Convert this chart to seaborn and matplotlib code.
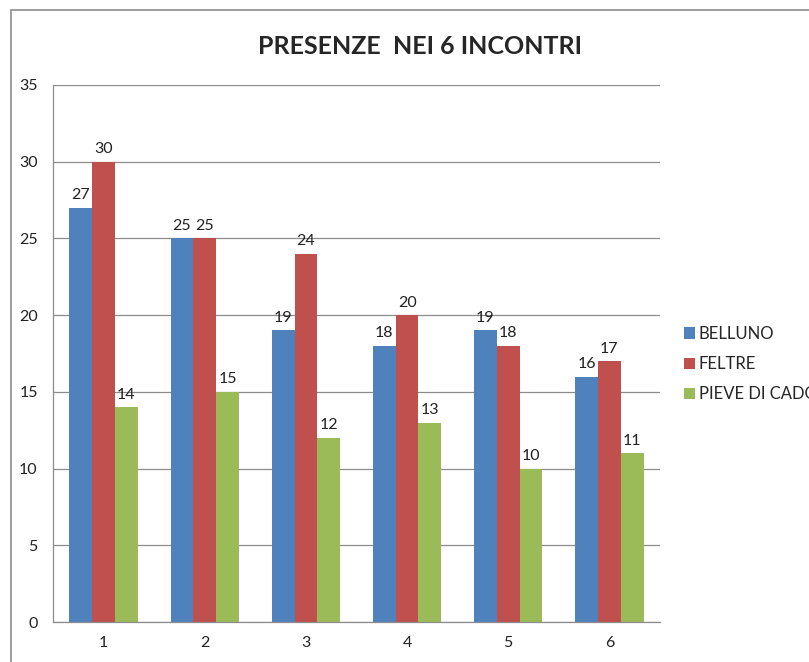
import matplotlib
matplotlib.use("Agg")
import matplotlib.pyplot as plt
from matplotlib.patches import Rectangle
import seaborn as sns
import pandas as pd

incontri = ["1", "2", "3", "4", "5", "6"]
belluno = [27, 25, 19, 18, 19, 16]
feltre = [30, 25, 24, 20, 18, 17]
pieve = [14, 15, 12, 13, 10, 11]
sedi = ["BELLUNO", "FELTRE", "PIEVE DI CADORE"]
colori = ["#4F81BD", "#C0504D", "#9BBB59"]

df = pd.DataFrame({
    "incontro": incontri * 3,
    "presenze": belluno + feltre + pieve,
    "sede": [s for s in sedi for _ in incontri],
})

sns.set_style("white")
plt.rcParams["font.family"] = ["Lato", "DejaVu Sans"]

fig = plt.figure(figsize=(8.09, 6.62), dpi=100)
ax = fig.add_axes([53 / 809, 40 / 662, 607 / 809, 537 / 662])

sns.barplot(data=df, x="incontro", y="presenze", hue="sede", order=incontri,
            hue_order=sedi, palette=colori, width=0.675, gap=0,
            saturation=1, linewidth=0, ax=ax)

for cont in ax.containers:
    ax.bar_label(cont, padding=4, fontsize=11.5, color="#222222")

ax.set_ylim(0, 35)
ax.set_yticks(range(0, 36, 5))
ax.set_xlim(-0.5, 5.5)
ax.yaxis.grid(True, color="#8c8c8c", linewidth=0.9)
ax.set_axisbelow(True)
ax.set_xlabel("")
ax.set_ylabel("")
for s in ["top", "right"]:
    ax.spines[s].set_visible(False)
for s in ["left", "bottom"]:
    ax.spines[s].set_color("#8c8c8c")
    ax.spines[s].set_linewidth(0.9)
ax.tick_params(axis="both", length=0, labelsize=11.5, colors="#222222")
ax.tick_params(axis="y", pad=11)
ax.tick_params(axis="x", pad=10)

ax.legend(loc="center left", bbox_to_anchor=(684 / 809, 1 - 364 / 662),
          bbox_transform=fig.transFigure, frameon=False, fontsize=12,
          handlelength=0.65, handleheight=0.65, handletextpad=0.25,
          labelspacing=0.85, borderaxespad=0, borderpad=0)

fig.text(420 / 809, 1 - 47 / 662, "PRESENZE  NEI 6 INCONTRI",
         ha="center", va="center", fontsize=18, fontweight="bold")

fig.patches.append(Rectangle((11 / 809, -0.1), 1.0, 1 - 10 / 662 + 0.1,
                             transform=fig.transFigure, fill=False,
                             edgecolor="#8c8c8c", linewidth=1.2))

fig.savefig("out.png", dpi=100)
